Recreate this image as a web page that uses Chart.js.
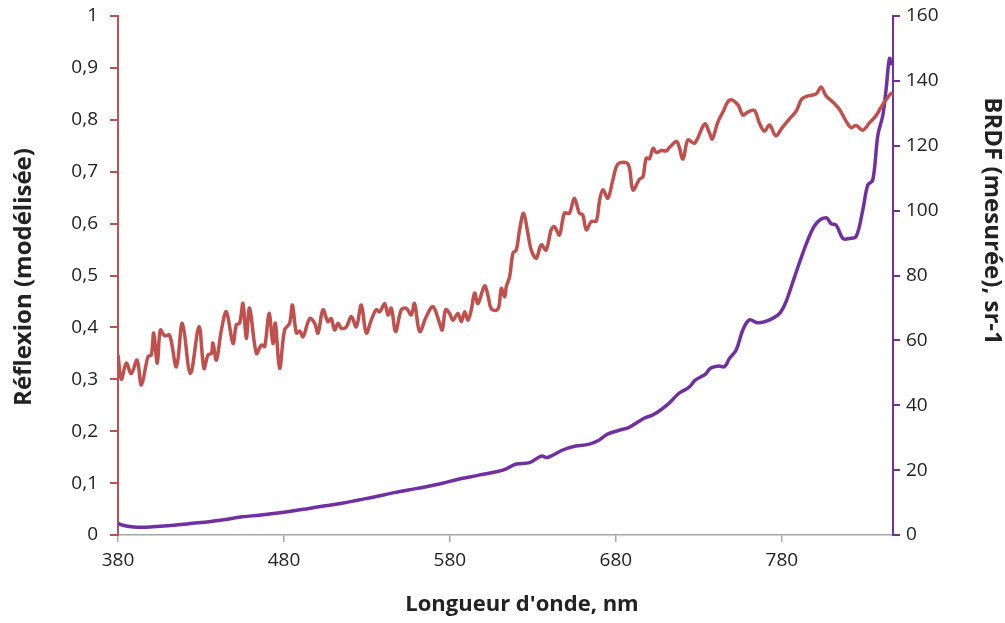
<!DOCTYPE html>
<html>
<head>
<meta charset="utf-8">
<script src="https://cdn.jsdelivr.net/npm/chart.js@4"></script>
<style>
  html, body { margin: 0; padding: 0; background: #fff; }
  #wrap { width: 1005px; height: 623px; }
</style>
</head>
<body>
<div id="wrap"><canvas id="brdfChart" width="1005" height="623"></canvas></div>
<script>
// reflexion (modelled), left axis
var reflWl = [380.0,382.0,385.0,388.0,391.5,394.1,398.1,400.1,401.5,403.7,405.5,408.1,411.1,415.2,418.8,423.6,428.8,431.8,434.2,436.3,437.2,439.3,442.3,445.3,449.3,451.3,453.3,455.3,457.3,459.3,463.4,466.4,468.4,471.0,473.4,474.8,477.4,480.4,483.4,485.1,487.5,489.5,491.5,495.5,498.5,500.5,503.5,506.5,508.5,510.5,512.6,514.6,517.6,520.6,523.6,526.6,529.6,532.6,535.6,537.7,540.7,542.7,544.7,547.3,550.7,553.7,556.7,558.7,561.8,565.8,569.8,573.8,575.4,577.4,579.8,581.8,584.8,586.9,588.9,590.9,592.9,594.9,596.9,600.9,602.9,604.9,607.9,609.5,611.0,613.0,614.0,616.0,618.0,620.0,622.0,624.4,627.0,629.0,632.0,635.0,638.0,641.0,643.0,646.0,649.0,652.0,655.0,658.0,660.0,662.2,665.2,668.2,670.2,672.2,675.2,678.2,681.3,687.3,690.3,694.3,696.3,698.3,700.3,702.4,704.4,707.4,710.4,712.4,716.8,720.4,723.4,727.5,733.5,736.5,738.1,741.5,744.5,748.5,753.5,756.5,759.5,763.5,766.6,769.6,772.6,776.4,780.0,784.6,788.7,792.0,795.7,800.7,803.7,806.7,810.8,814.8,818.8,821.8,824.8,828.8,832.8,836.8,839.9,842.9,845.9,847.0];
var reflVal = [0.347,0.300,0.331,0.311,0.337,0.289,0.344,0.347,0.389,0.331,0.395,0.384,0.385,0.324,0.408,0.311,0.401,0.321,0.347,0.350,0.370,0.337,0.395,0.430,0.369,0.405,0.408,0.446,0.379,0.437,0.350,0.366,0.363,0.427,0.369,0.408,0.321,0.395,0.408,0.443,0.389,0.393,0.382,0.417,0.408,0.389,0.434,0.411,0.417,0.395,0.408,0.398,0.401,0.421,0.401,0.443,0.389,0.414,0.434,0.430,0.446,0.424,0.437,0.392,0.434,0.437,0.424,0.446,0.392,0.421,0.440,0.408,0.395,0.434,0.427,0.414,0.427,0.411,0.430,0.414,0.434,0.466,0.446,0.480,0.462,0.436,0.433,0.440,0.475,0.459,0.479,0.498,0.543,0.549,0.588,0.620,0.581,0.549,0.533,0.559,0.549,0.588,0.594,0.578,0.620,0.620,0.649,0.620,0.617,0.588,0.604,0.605,0.645,0.665,0.649,0.684,0.715,0.715,0.665,0.686,0.690,0.726,0.725,0.745,0.737,0.741,0.740,0.747,0.758,0.724,0.761,0.755,0.792,0.774,0.763,0.796,0.815,0.838,0.829,0.809,0.815,0.818,0.793,0.778,0.790,0.769,0.784,0.802,0.817,0.840,0.846,0.850,0.863,0.846,0.834,0.820,0.797,0.785,0.789,0.780,0.794,0.808,0.825,0.839,0.851,0.850];

// BRDF (measured), right axis
var brdfWl = [380,383,387,392,397,405,415,425,435,445,455,465,475,485,495,505,515,525,535,545,555,565,575,585,592,600,608,614,620,628,635,639,648,654,664,670,675,682,688,697,703,712,718,724,728,734,737,742,745.5,748.5,752.5,756.5,760.5,765.5,771.6,778.6,782.6,786,790,795.7,800.7,806.7,809.7,812.8,816.8,820.8,824.8,828.8,831.8,834.8,837.9,840.9,842.9,844.9,846.5];
var brdfVal = [3.6,3.0,2.6,2.4,2.4,2.7,3.1,3.6,4.1,4.8,5.6,6.1,6.7,7.4,8.2,9.0,9.8,10.8,11.8,12.9,13.9,14.8,15.9,17.2,17.9,18.7,19.5,20.4,21.9,22.3,24.3,23.9,26.2,27.2,28.0,29.3,31.1,32.3,33.2,36.0,37.2,40.6,43.7,45.5,47.8,49.6,51.4,52.1,51.9,54.5,57.0,63.2,66.3,65.4,66.1,68.3,72.0,77.0,83.0,91.0,96.0,97.8,96.0,95.5,91.4,91.4,92.0,100.2,107.9,109.4,123.3,129.5,137.7,146.9,144.9];

var xTicks = [380, 480, 580, 680, 780];
var leftTicks = [0, 0.1, 0.2, 0.3, 0.4, 0.5, 0.6, 0.7, 0.8, 0.9, 1];
var rightTicks = [0, 20, 40, 60, 80, 100, 120, 140, 160];

var red = '#C0504D';
var purple = '#7030A0';
var grey = '#A6A6A6';
var fontFam = '"Open Sans", sans-serif';

function pairs(xs, ys){
  var out = [];
  for (var i = 0; i < xs.length; i++) out.push({x: xs[i], y: ys[i]});
  return out;
}

// keep the plot box where it is in the picture
function fitY(w){
  return function(s){ s.width = w; s.paddingTop = 0; s.paddingBottom = 0; };
}

// axis titles sit a bit off-centre in the original, so draw them here
var axisTitles = {
  id: 'axisTitles',
  afterDraw: function(chart){
    var ctx = chart.ctx;
    ctx.save();
    ctx.fillStyle = '#222';
    ctx.textAlign = 'center';
    ctx.textBaseline = 'middle';
    ctx.font = 'bold 22px ' + fontFam;
    ctx.fillText("Longueur d'onde, nm", 522, 605);
    ctx.font = 'bold 24px ' + fontFam;
    ctx.save();
    ctx.translate(24, 277);
    ctx.rotate(-Math.PI / 2);
    ctx.fillText('Réflexion (modélisée)', 0, 0);
    ctx.restore();
    ctx.translate(992, 221);
    ctx.rotate(Math.PI / 2);
    ctx.fillText('BRDF (mesurée), sr-1', 0, 0);
    ctx.restore();
  }
};

var brdfChart = new Chart(document.getElementById('brdfChart'), {
  type: 'line',
  data: {
    datasets: [
      {
        label: 'Réflexion (modélisée)',
        data: pairs(reflWl, reflVal),
        borderColor: red,
        borderWidth: 3.5,
        pointRadius: 0,
        tension: 0.35,
        yAxisID: 'y'
      },
      {
        label: 'BRDF (mesurée), sr-1',
        data: pairs(brdfWl, brdfVal),
        borderColor: purple,
        borderWidth: 3.5,
        pointRadius: 0,
        tension: 0.35,
        yAxisID: 'y1'
      }
    ]
  },
  plugins: [axisTitles],
  options: {
    responsive: false,
    animation: false,
    layout: { padding: { top: 16, right: 0, left: 0, bottom: 0 } },
    plugins: { legend: { display: false }, tooltip: { enabled: false } },
    scales: {
      x: {
        type: 'linear',
        min: 380,
        max: 847,
        afterBuildTicks: function(s){ s.ticks = xTicks.map(function(v){ return {value: v}; }); },
        afterFit: function(s){ s.height = 88; s.paddingLeft = 0; s.paddingRight = 0; },
        border: { color: grey, width: 1.5 },
        grid: { drawOnChartArea: false, color: grey, tickLength: 7, lineWidth: 1.5 },
        ticks: { color: '#222', font: { family: fontFam, size: 19 }, padding: 7, maxRotation: 0 }
      },
      y: {
        position: 'left',
        min: 0,
        max: 1,
        afterBuildTicks: function(s){ s.ticks = leftTicks.map(function(v){ return {value: v}; }); },
        afterFit: fitY(118),
        border: { color: red, width: 2 },
        grid: { drawOnChartArea: false, color: red, tickLength: 8, lineWidth: 2 },
        ticks: {
          color: '#222',
          font: { family: fontFam, size: 19 },
          padding: 12,
          callback: function(v){ return String(Math.round(v * 10) / 10).replace('.', ','); }
        }
      },
      y1: {
        position: 'right',
        min: 0,
        max: 160,
        afterBuildTicks: function(s){ s.ticks = rightTicks.map(function(v){ return {value: v}; }); },
        afterFit: fitY(112),
        border: { color: purple, width: 2 },
        grid: { drawOnChartArea: false, color: purple, tickLength: 7, lineWidth: 2 },
        ticks: { color: '#222', font: { family: fontFam, size: 19 }, padding: 6 }
      }
    }
  }
});
</script>
</body>
</html>
